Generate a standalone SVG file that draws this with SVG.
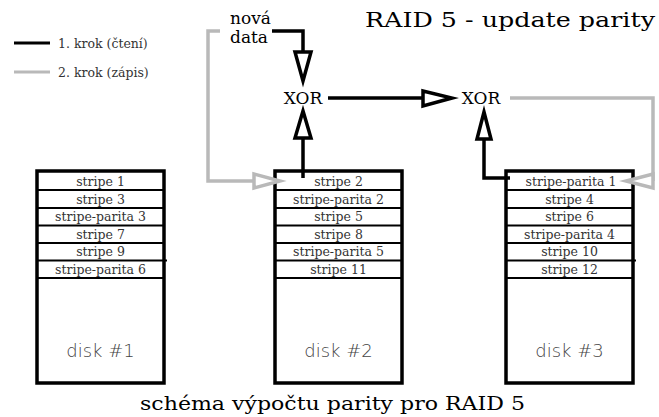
<svg xmlns="http://www.w3.org/2000/svg" width="659" height="417" viewBox="0 0 659 417">
<style>
.box{fill:#fff;stroke:#000;stroke-width:3.5}
.row{stroke:#000;stroke-width:2}
.st{font-family:"DejaVu Serif","Liberation Serif",serif;font-size:12.5px;fill:#333;text-anchor:middle}
.dl{font-family:"DejaVu Sans","Liberation Sans",sans-serif;font-weight:300;font-size:18px;fill:#444;text-anchor:middle}
.blk{fill:none;stroke:#000;stroke-width:3.5}
.gry{fill:none;stroke:#b9b9b9;stroke-width:3.5}
.ahb{fill:#fff;stroke:#000;stroke-width:3.5;stroke-linejoin:miter}
.ahg{fill:#fff;stroke:#b9b9b9;stroke-width:3.5;stroke-linejoin:miter}
.lbl{font-family:"DejaVu Serif","Liberation Serif",serif;fill:#000}
.leg{font-family:"DejaVu Serif","Liberation Serif",serif;font-size:12.5px;fill:#333}
</style>
<rect width="659" height="417" fill="#fff"/>

<g id="legend">
<line x1="14" y1="43" x2="50" y2="43" stroke="#000" stroke-width="3"/>
<text class="leg" x="58" y="48">1. krok (čtení)</text>
<line x1="14" y1="72" x2="50" y2="72" stroke="#b9b9b9" stroke-width="3"/>
<text class="leg" x="58" y="77">2. krok (zápis)</text>
</g>

<g id="title"><text class="lbl" x="365" y="27" font-size="20" textLength="290" lengthAdjust="spacingAndGlyphs">RAID 5 - update parity</text></g>

<g id="nova-data">
<text class="lbl" x="230" y="24" font-size="17">nová</text>
<text class="lbl" x="230" y="43" font-size="17">data</text>
</g>

<g id="disk1">
<rect class="box" x="37" y="171" width="127" height="212"/>
<line class="row" x1="37" y1="190" x2="164" y2="190"/>
<line class="row" x1="37" y1="208" x2="164" y2="208"/>
<line class="row" x1="37" y1="225.5" x2="164" y2="225.5"/>
<line class="row" x1="37" y1="243" x2="164" y2="243"/>
<line class="row" x1="37" y1="260.5" x2="167" y2="260.5"/>
<line class="row" x1="37" y1="278" x2="164" y2="278"/>
<text class="st" x="100.5" y="185.5">stripe 1</text>
<text class="st" x="100.5" y="203.5">stripe 3</text>
<text class="st" x="100.5" y="221">stripe-parita 3</text>
<text class="st" x="100.5" y="238.5">stripe 7</text>
<text class="st" x="100.5" y="256">stripe 9</text>
<text class="st" x="100.5" y="273.5">stripe-parita 6</text>
<text class="dl" x="100.5" y="357">disk #1</text>
</g>

<g id="disk2">
<rect class="box" x="275" y="171" width="127" height="212"/>
<line class="row" x1="275" y1="190" x2="402" y2="190"/>
<line class="row" x1="275" y1="208" x2="402" y2="208"/>
<line class="row" x1="275" y1="225.5" x2="402" y2="225.5"/>
<line class="row" x1="275" y1="243" x2="402" y2="243"/>
<line class="row" x1="275" y1="260.5" x2="402" y2="260.5"/>
<line class="row" x1="275" y1="278" x2="402" y2="278"/>
<text class="st" x="338.5" y="185.5">stripe 2</text>
<text class="st" x="338.5" y="203.5">stripe-parita 2</text>
<text class="st" x="338.5" y="221">stripe 5</text>
<text class="st" x="338.5" y="238.5">stripe 8</text>
<text class="st" x="338.5" y="256">stripe-parita 5</text>
<text class="st" x="338.5" y="273.5">stripe 11</text>
<text class="dl" x="338.5" y="357">disk #2</text>
</g>

<g id="disk3">
<rect class="box" x="506" y="171" width="127" height="212"/>
<line class="row" x1="506" y1="190" x2="633" y2="190"/>
<line class="row" x1="506" y1="208" x2="633" y2="208"/>
<line class="row" x1="506" y1="225.5" x2="633" y2="225.5"/>
<line class="row" x1="506" y1="243" x2="633" y2="243"/>
<line class="row" x1="506" y1="260.5" x2="636" y2="260.5"/>
<line class="row" x1="506" y1="278" x2="633" y2="278"/>
<text class="st" x="571" y="185.5">stripe-parita 1</text>
<text class="st" x="569.5" y="203.5">stripe 4</text>
<text class="st" x="569.5" y="221">stripe 6</text>
<text class="st" x="569.5" y="238.5">stripe-parita 4</text>
<text class="st" x="569.5" y="256">stripe 10</text>
<text class="st" x="569.5" y="273.5">stripe 12</text>
<text class="dl" x="569.5" y="357">disk #3</text>
</g>

<g id="xor1"><text class="lbl" x="303" y="104" font-size="17" text-anchor="middle">XOR</text></g>
<g id="xor2"><text class="lbl" x="481" y="104" font-size="17" text-anchor="middle">XOR</text></g>

<g id="connectors">
<polyline class="blk" points="272,31 303,31 303,52"/>
<polygon class="ahb" points="295,52 311,52 303,81"/>
<polyline class="blk" points="303,138 303,178"/>
<polygon class="ahb" points="303,111 295,138 311,138"/>
<line class="blk" x1="328" y1="98" x2="423" y2="98"/>
<polygon class="ahb" points="423,91 423,106 452,98"/>
<polyline class="blk" points="484,139 484,178 510,178"/>
<polygon class="ahb" points="484,112 477,139 491,139"/>
<polyline class="gry" points="510,98 653,98 653,181"/>
<polygon class="ahg" points="653,174 653,188 626,181"/>
<polyline class="gry" points="220,31 208,31 208,181 254,181"/>
<polygon class="ahg" points="254,174 254,188 280,181"/>
</g>

<g id="caption"><text class="lbl" x="140" y="410" font-size="19" textLength="385" lengthAdjust="spacingAndGlyphs">schéma výpočtu parity pro RAID 5</text></g>
</svg>
